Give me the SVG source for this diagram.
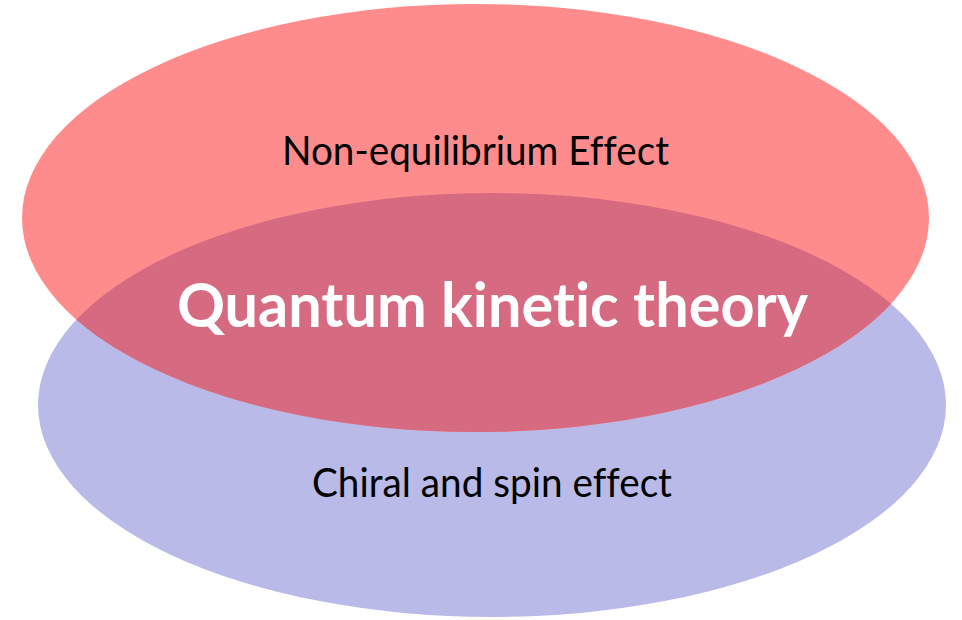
<svg xmlns="http://www.w3.org/2000/svg" width="962" height="620" viewBox="0 0 962 620">
<style>
.lbl{font-family:Lato,"Open Sans","Liberation Sans",sans-serif;fill:#000;text-anchor:middle;font-variant-ligatures:none;font-feature-settings:"liga" 0,"clig" 0}
.main{font-family:Lato,"Open Sans","Liberation Sans",sans-serif;font-weight:bold;fill:#fff;text-anchor:middle;font-variant-ligatures:none;font-feature-settings:"liga" 0,"clig" 0}
</style>
<defs>
<clipPath id="clipBlue"><ellipse cx="492" cy="405" rx="454" ry="212"/></clipPath>
</defs>
<rect width="962" height="620" fill="#fff"/>
<g id="chiral">
<ellipse cx="492" cy="405" rx="454" ry="212" fill="#B9BAE8"/>
<text class="lbl" x="492" y="497" font-size="41" textLength="360" lengthAdjust="spacingAndGlyphs">Chiral and spin effect</text>
</g>
<g id="noneq">
<ellipse cx="475.5" cy="218" rx="453.5" ry="214" fill="#FF8C8C"/>
<text class="lbl" x="475.5" y="165" font-size="41" textLength="387" lengthAdjust="spacingAndGlyphs">Non-equilibrium Effect</text>
</g>
<g id="qkt">
<ellipse cx="475.5" cy="218" rx="453.5" ry="214" fill="#D66A80" clip-path="url(#clipBlue)"/>
<text class="main" x="492.5" y="327" font-size="62" textLength="631" lengthAdjust="spacingAndGlyphs">Quantum kinetic theory</text>
</g>
<g id="connectors"/>
</svg>
